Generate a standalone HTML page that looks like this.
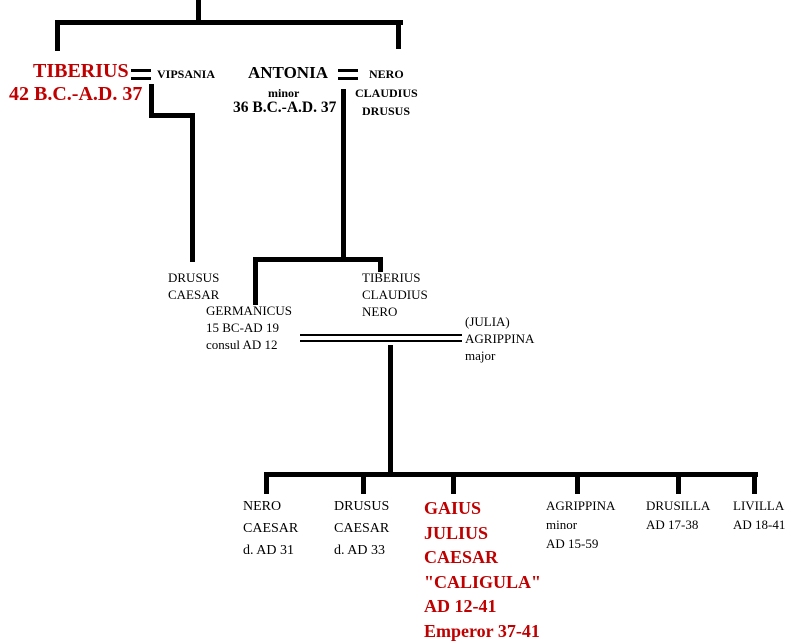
<!DOCTYPE html><html><head><style>
body{margin:0;width:788px;height:642px;background:#fff;position:relative;overflow:hidden;font-family:"Liberation Serif",serif}
.l{position:absolute;background:#000}
.t{position:absolute;white-space:nowrap;color:#000}
.r{color:#c00000}
</style></head><body>
<div class="l" style="left:196px;top:0;width:5px;height:24px"></div>
<div class="l" style="left:55px;top:20px;width:348px;height:5px"></div>
<div class="l" style="left:55px;top:20px;width:5px;height:31px"></div>
<div class="l" style="left:396px;top:20px;width:5px;height:29px"></div>
<div class="l" style="left:131px;top:69px;width:20px;height:3px"></div>
<div class="l" style="left:131px;top:77px;width:20px;height:3px"></div>
<div class="l" style="left:338px;top:69px;width:20px;height:3px"></div>
<div class="l" style="left:338px;top:77px;width:20px;height:3px"></div>
<div class="l" style="left:149px;top:84px;width:5px;height:34px"></div>
<div class="l" style="left:149px;top:113px;width:46px;height:5px"></div>
<div class="l" style="left:190px;top:113px;width:5px;height:149px"></div>
<div class="l" style="left:341px;top:89px;width:5px;height:173px"></div>
<div class="l" style="left:253px;top:257px;width:130px;height:5px"></div>
<div class="l" style="left:253px;top:257px;width:5px;height:48px"></div>
<div class="l" style="left:378px;top:257px;width:5px;height:15px"></div>
<div class="l" style="left:300px;top:334px;width:162px;height:2px"></div>
<div class="l" style="left:300px;top:340px;width:162px;height:2px"></div>
<div class="l" style="left:388px;top:345px;width:5px;height:130px"></div>
<div class="l" style="left:264px;top:472px;width:494px;height:5px"></div>
<div class="l" style="left:264px;top:472px;width:5px;height:22px"></div>
<div class="l" style="left:361px;top:472px;width:5px;height:22px"></div>
<div class="l" style="left:451px;top:472px;width:5px;height:22px"></div>
<div class="l" style="left:575px;top:472px;width:5px;height:22px"></div>
<div class="l" style="left:676px;top:472px;width:5px;height:22px"></div>
<div class="l" style="left:752px;top:472px;width:5px;height:22px"></div>

<div class="t r" style="left:33px;top:60px;font-size:20px;font-weight:bold">TIBERIUS</div>
<div class="t r" style="left:9px;top:83px;font-size:20px;font-weight:bold">42 B.C.-A.D. 37</div>
<div class="t" style="left:157px;top:67px;font-size:12px;font-weight:bold">VIPSANIA</div>
<div class="t" style="left:248px;top:63px;font-size:17px;font-weight:bold">ANTONIA</div>
<div class="t" style="left:268px;top:86px;font-size:12px;font-weight:bold">minor</div>
<div class="t" style="left:233px;top:99px;font-size:15.5px;font-weight:bold">36 B.C.-A.D. 37</div>
<div class="t" style="left:369px;top:67px;font-size:12px;font-weight:bold">NERO</div>
<div class="t" style="left:355px;top:86px;font-size:12px;font-weight:bold">CLAUDIUS</div>
<div class="t" style="left:362px;top:104px;font-size:12px;font-weight:bold">DRUSUS</div>

<div class="t" style="left:168px;top:269px;font-size:13px;line-height:17px">DRUSUS<br>CAESAR</div>
<div class="t" style="left:362px;top:269px;font-size:13px;line-height:17px">TIBERIUS<br>CLAUDIUS<br>NERO</div>
<div class="t" style="left:206px;top:302px;font-size:13px;line-height:17px">GERMANICUS<br>15 BC-AD 19<br>consul AD 12</div>
<div class="t" style="left:465px;top:313px;font-size:13px;line-height:17px">(JULIA)<br>AGRIPPINA<br>major</div>

<div class="t" style="left:243px;top:496px;font-size:14px;line-height:22px">NERO<br>CAESAR<br>d. AD 31</div>
<div class="t" style="left:334px;top:496px;font-size:14px;line-height:22px">DRUSUS<br>CAESAR<br>d. AD 33</div>
<div class="t r" style="left:424px;top:496px;font-size:18px;line-height:24.5px;font-weight:bold">GAIUS<br>JULIUS<br>CAESAR<br>"CALIGULA"<br>AD 12-41<br>Emperor 37-41</div>
<div class="t" style="left:546px;top:496px;font-size:13px;line-height:19px">AGRIPPINA<br>minor<br>AD 15-59</div>
<div class="t" style="left:646px;top:496px;font-size:13px;line-height:19px">DRUSILLA<br>AD 17-38</div>
<div class="t" style="left:733px;top:496px;font-size:13px;line-height:19px">LIVILLA<br>AD 18-41</div>
</body></html>
